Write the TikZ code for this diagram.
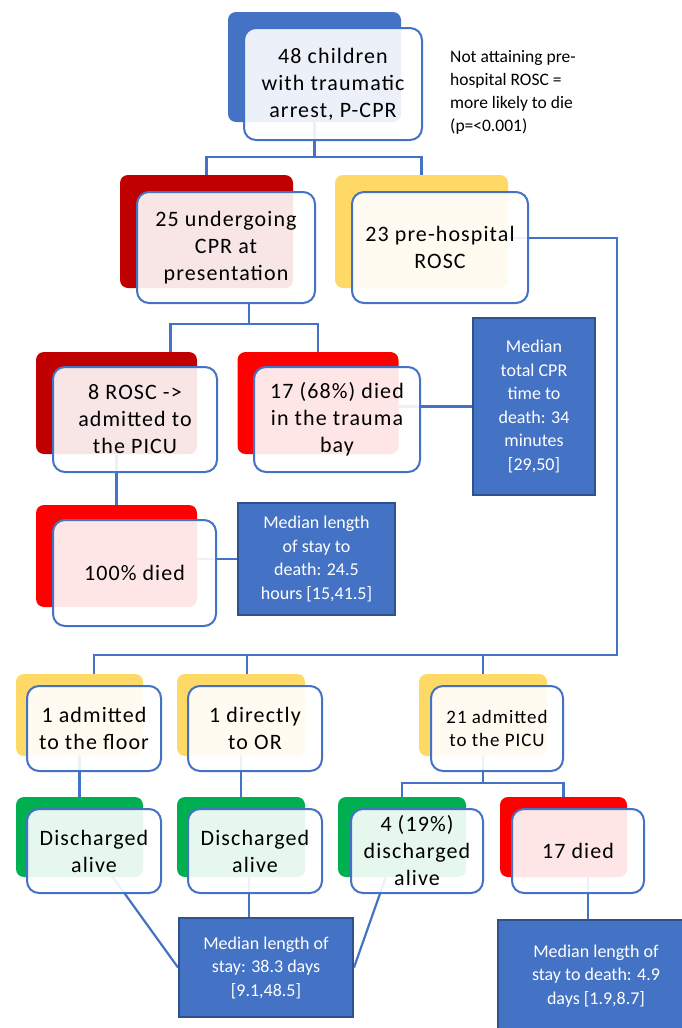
\documentclass[tikz,border=0pt]{standalone}
\usepackage{fontspec}
\setmainfont{Carlito}
\newfontfamily\boxfam{Carlito}[LetterSpace=5]
\usetikzlibrary{backgrounds}
\definecolor{cblue}{HTML}{4472C4}
\definecolor{cdark}{HTML}{2F528F}
\definecolor{cdred}{HTML}{C00000}
\definecolor{cred}{HTML}{FF0000}
\definecolor{cyel}{HTML}{FFD966}
\definecolor{cgreen}{HTML}{00B050}
\newcommand{\bigtxt}{\boxfam\fontsize{22}{27}\selectfont}
\newcommand{\midtxt}{\boxfam\fontsize{19}{22.5}\selectfont}
\newcommand{\infotxt}{\fontsize{18}{23.5}\selectfont}
\newcommand{\notetxt}{\fontsize{17.5}{23}\selectfont}

\begin{document}
\begin{tikzpicture}[x=1pt, y=-1pt,
  bk/.style={rounded corners=8pt, inner sep=0pt},
  fr/.style={draw=cblue, line width=2pt, rounded corners=12pt, fill=white, fill opacity=0.9, text opacity=1, align=center, inner sep=0pt, font=\bigtxt},
  info/.style={draw=cdark, line width=2pt, fill=cblue, text=white, align=center, inner sep=0pt, font=\infotxt},
  conn/.style={draw=cblue, line width=2.2pt}]
\useasboundingbox (0,0) rectangle (682,1028);

% first level
\node[bk, fill=cblue, minimum width=173, minimum height=110] (topb) at (314.5,67) {};
\node[fr, minimum width=178, minimum height=112] (top) at (333,84) {48 children\\with traumatic\\arrest, P-CPR};
\node[align=left, anchor=west, inner sep=0pt, font=\notetxt] (note) at (450,92) {Not attaining pre-\\hospital ROSC =\\more likely to die\\(p=<0.001)};

% second level
\node[bk, fill=cdred, minimum width=173, minimum height=113] (cprb) at (206.5,231.5) {};
\node[fr, minimum width=178, minimum height=111] (cpr) at (226,247.5) {25 undergoing\\CPR at\\presentation};
\node[bk, fill=cyel, minimum width=173, minimum height=113] (roscb) at (421.5,231.5) {};
\node[fr, minimum width=176, minimum height=111] (rosc) at (440,247.5) {23 pre-hospital\\ROSC};

% CPR branch
\node[bk, fill=cdred, minimum width=161, minimum height=102] (rosc8b) at (116.5,403) {};
\node[fr, minimum width=164, minimum height=105] (rosc8) at (135,419.5) {8 ROSC ->\\admitted to\\the PICU};
\node[bk, fill=cred, minimum width=161, minimum height=102] (died68b) at (318,403) {};
\node[fr, minimum width=166, minimum height=105] (died68) at (337,419.5) {17 (68\%) died\\in the trauma\\bay};
\node[info, minimum width=122, minimum height=177] (info1) at (534,406.5) {Median\\total CPR\\time to\\death: 34\\minutes\\{}[29,50]};
\node[bk, fill=cred, minimum width=161, minimum height=102] (died100b) at (116.5,556) {};
\node[fr, minimum width=163, minimum height=106] (died100) at (134.5,573) {100\% died};
\node[info, minimum width=157, minimum height=112] (info2) at (316.5,559) {Median length\\of stay to\\death: 24.5\\hours [15,41.5]};

% ROSC branch
\node[bk, fill=cyel, minimum width=127, minimum height=82] (floorb) at (79.5,715) {};
\node[fr, minimum width=134, minimum height=85] (floor) at (94,728.5) {1 admitted\\to the floor};
\node[bk, fill=cyel, minimum width=128, minimum height=82] (toorb) at (241,715) {};
\node[fr, minimum width=134, minimum height=85] (toor) at (255,728.5) {1 directly\\to OR};
\node[bk, fill=cyel, minimum width=128, minimum height=82] (picub) at (483,715) {};
\node[fr, minimum width=132, minimum height=85, font=\midtxt] (picu) at (497,728.5) {21 admitted\\to the PICU};

\node[bk, fill=cgreen, minimum width=127, minimum height=80] (dis1b) at (79.5,837) {};
\node[fr, minimum width=134, minimum height=84] (dis1) at (94,851) {Discharged\\alive};
\node[bk, fill=cgreen, minimum width=128, minimum height=80] (dis2b) at (241,837) {};
\node[fr, minimum width=134, minimum height=84] (dis2) at (255,851) {Discharged\\alive};
\node[bk, fill=cgreen, minimum width=128, minimum height=80] (dis4b) at (402,837) {};
\node[fr, minimum width=132, minimum height=84] (dis4) at (417,851) {4 (19\%)\\discharged\\alive};
\node[bk, fill=cred, minimum width=127, minimum height=80] (died17b) at (563.5,837) {};
\node[fr, minimum width=132, minimum height=84] (died17) at (578,851) {17 died};

\node[info, minimum width=174, minimum height=99] (info3) at (266,967.5) {Median length of\\stay: 38.3 days\\{}[9.1,48.5]};
\node[info, minimum width=196, minimum height=112] (info4) at (596,976) {Median length of\\stay to death: 4.9\\days [1.9,8.7]};

% connectors
\coordinate (f1) at (315,157);
\coordinate (f2) at (249,324);
\coordinate (f3) at (483,783);
\coordinate (r0) at (617,238);
\coordinate (r1) at (617,655);
\coordinate (orx) at ([xshift=6]toorb.center);
\coordinate (d2x) at ([xshift=-17]info3.north);
\coordinate (d4x) at ([xshift=-22]dis4.center);
\coordinate (d17x) at ([xshift=-8]info4.north);
\coordinate (c8x) at ([xshift=54]rosc8b.center);
\begin{scope}[on background layer]
\draw[conn] (topb.center) -- (topb |- f1);
\draw[conn] (cprb.center) |- (f1) -| (roscb.center);
\draw[conn] (cpr.south -| f2) -- (f2);
\draw[conn] (c8x) |- (f2) -| (died68b.center);
\draw[conn] (rosc8b.center) -- (died100b.center);
\draw[conn] (info1.west -| died68b.center) -- (info1.west);
\draw[conn] (info2.west -| died100b.center) -- (info2.west);
\draw[conn] (r0 -| roscb.center) -- (r0) -- (r1) -| (floor.center);
\draw[conn] (orx) -- (orx |- r1);
\draw[conn] (picub.center) -- (picub.center |- r1);
\draw[conn] (floorb.center) -- (dis1b.center);
\draw[conn] (toorb.center) -- (dis2b.center);
\draw[conn] (picub.center) -- (f3);
\draw[conn] (dis4b.center) |- (f3) -| (died17b.center);
\draw[conn] (dis1.center) -- (info3.west);
\draw[conn] (d2x) -- (d2x |- dis2.center);
\draw[conn] (d4x) -- (info3.east);
\draw[conn] (d17x) -- (d17x |- died17.center);
\end{scope}
\end{tikzpicture}
\end{document}
